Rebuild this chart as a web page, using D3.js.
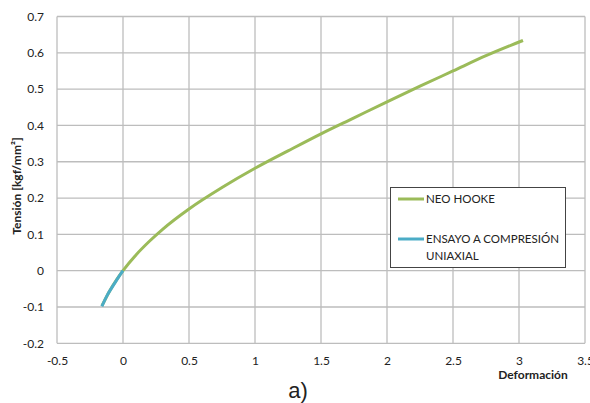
<!DOCTYPE html>
<html>
<head>
<meta charset="utf-8">
<script src="https://cdn.jsdelivr.net/npm/d3@7"></script>
<style>
  body { margin: 0; background: #fff; }
  svg text { font-family: Lato, "Open Sans", sans-serif; fill: #222; }
</style>
</head>
<body>
<svg id="chart" width="590" height="403"></svg>
<script>
// Data
var neoX = [-0.16, -0.1, -0.05, 0, 0.1, 0.2, 0.3, 0.5, 0.75, 1, 1.25, 1.5, 1.75, 2, 2.25, 2.5, 2.75, 3.03];
var neoY = [-0.097, -0.055, -0.026, 0, 0.044, 0.081, 0.114, 0.170, 0.229, 0.282, 0.330, 0.377, 0.421, 0.465, 0.508, 0.550, 0.592, 0.634];
var ensX = [-0.16, -0.12, -0.08, -0.04, 0];
var ensY = [-0.098, -0.068, -0.044, -0.021, 0];
var xTicks = [-0.5, 0, 0.5, 1, 1.5, 2, 2.5, 3, 3.5];
var yTicks = [-0.2, -0.1, 0, 0.1, 0.2, 0.3, 0.4, 0.5, 0.6, 0.7];
var seriesNames = ["NEO HOOKE", "ENSAYO A COMPRESIÓN UNIAXIAL"];

var margin = { top: 16.5, right: 5, bottom: 60, left: 57 };
var width = 585 - margin.left;
var height = 343.3 - margin.top;

var svg = d3.select("#chart");
var g = svg.append("g")
  .attr("transform", "translate(" + margin.left + "," + margin.top + ")");

var x = d3.scaleLinear().domain([-0.5, 3.5]).range([0, width]);
var y = d3.scaleLinear().domain([-0.2, 0.7]).range([height, 0]);

// gridlines
g.append("g").selectAll("line").data(xTicks).enter().append("line")
  .attr("x1", d => x(d)).attr("x2", d => x(d))
  .attr("y1", 0).attr("y2", height)
  .attr("stroke", "#bdbdbd").attr("stroke-width", 1.3);
g.append("g").selectAll("line").data(yTicks).enter().append("line")
  .attr("x1", 0).attr("x2", width)
  .attr("y1", d => y(d)).attr("y2", d => y(d))
  .attr("stroke", "#bdbdbd").attr("stroke-width", 1.3);

// x axis labels
var xAxis = g.append("g")
  .attr("transform", "translate(0," + height + ")")
  .call(d3.axisBottom(x).tickValues(xTicks).tickSize(0).tickPadding(13).tickFormat(d => String(d)));
xAxis.select(".domain").remove();
xAxis.selectAll("text").style("font-size", "12px").style("font-family", "Lato, sans-serif").attr("fill", "#222");

// y axis labels
var yAxis = g.append("g")
  .call(d3.axisLeft(y).tickValues(yTicks).tickSize(0).tickPadding(13).tickFormat(d => String(d)));
yAxis.select(".domain").remove();
yAxis.selectAll("text").style("font-size", "12px").style("font-family", "Lato, sans-serif").attr("fill", "#222");

// series
var line = d3.line().x(d => x(d[0])).y(d => y(d[1])).curve(d3.curveMonotoneX);
g.append("path")
  .datum(neoX.map((v, i) => [v, neoY[i]]))
  .attr("d", line).attr("fill", "none")
  .attr("stroke", "#9BBB59").attr("stroke-width", 3);
g.append("path")
  .datum(ensX.map((v, i) => [v, ensY[i]]))
  .attr("d", line).attr("fill", "none")
  .attr("stroke", "#4BACC6").attr("stroke-width", 3);

// axis titles
svg.append("text")
  .attr("transform", "translate(21,186) rotate(-90)")
  .attr("text-anchor", "middle")
  .style("font-size", "12px").style("font-weight", "bold")
  .text("Tensión [kgf/mm²]");
svg.append("text")
  .attr("x", 533).attr("y", 379)
  .attr("text-anchor", "middle")
  .style("font-size", "12px").style("font-weight", "bold")
  .text("Deformación");
svg.append("text")
  .attr("x", 298).attr("y", 398)
  .attr("text-anchor", "middle")
  .style("font-size", "22px").style("font-family", "Liberation Sans, Arial, sans-serif")
  .text("a)");

// legend
var leg = svg.append("g");
leg.append("rect")
  .attr("x", 390.5).attr("y", 187.5).attr("width", 175).attr("height", 80)
  .attr("fill", "#fff").attr("stroke", "#444").attr("stroke-width", 1);
var legColors = ["#9BBB59", "#4BACC6"];
var legY = [199, 239];
leg.selectAll("line.l").data(seriesNames).enter().append("line")
  .attr("x1", 398).attr("x2", 424)
  .attr("y1", (d, i) => legY[i]).attr("y2", (d, i) => legY[i])
  .attr("stroke", (d, i) => legColors[i]).attr("stroke-width", 3);
leg.append("text").attr("x", 426).attr("y", 203).style("font-size", "11.5px").text(seriesNames[0]);
leg.append("text").attr("x", 426).attr("y", 243).style("font-size", "11.5px").text("ENSAYO A COMPRESIÓN");
leg.append("text").attr("x", 426).attr("y", 260).style("font-size", "11.5px").text("UNIAXIAL");
</script>
</body>
</html>
